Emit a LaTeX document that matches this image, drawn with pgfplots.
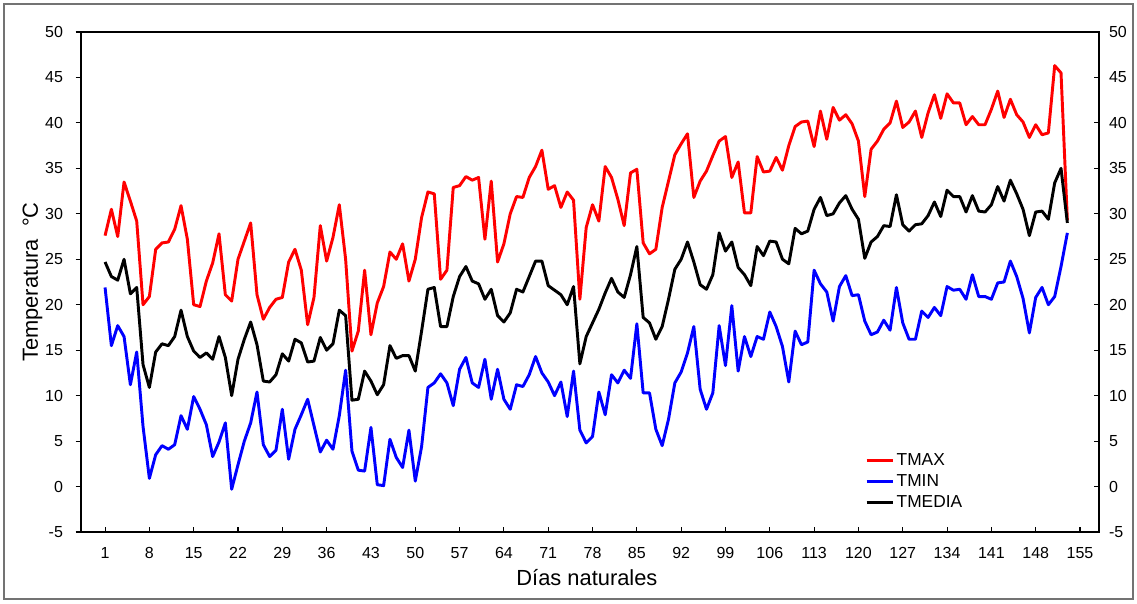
\documentclass[border=0pt]{standalone}
\usepackage{pgfplots}
\pgfplotsset{compat=1.18}
\usepackage{pgfplotstable}
\usepackage{fontspec}
\setmainfont{Liberation Sans}

\pgfplotstableread{
day tmax tmin tmed
1 27.6 21.9 24.7
2 30.5 15.5 23.1
3 27.5 17.7 22.7
4 33.5 16.5 25.0
5 31.4 11.2 21.2
6 29.2 14.8 21.9
7 20.0 6.6 13.4
8 20.9 0.9 10.9
9 26.1 3.5 14.8
10 26.8 4.5 15.7
11 26.9 4.1 15.5
12 28.3 4.6 16.5
13 30.9 7.8 19.4
14 27.2 6.3 16.5
15 20.0 9.9 14.9
16 19.8 8.5 14.2
17 22.6 6.8 14.7
18 24.6 3.3 14.0
19 27.8 4.9 16.5
20 21.1 7.0 14.2
21 20.4 -0.3 10.0
22 25.0 2.4 14.0
23 27.0 5.0 16.2
24 29.0 7.0 18.1
25 21.1 10.4 15.6
26 18.4 4.6 11.6
27 19.7 3.3 11.5
28 20.6 4.0 12.3
29 20.8 8.5 14.6
30 24.7 3.0 13.8
31 26.1 6.3 16.2
32 23.8 7.9 15.8
33 17.8 9.6 13.7
34 20.8 6.7 13.8
35 28.7 3.8 16.4
36 24.8 5.1 15.0
37 27.4 4.1 15.7
38 31.0 7.8 19.4
39 25.0 12.8 18.8
40 14.9 3.9 9.5
41 17.1 1.8 9.6
42 23.8 1.7 12.7
43 16.7 6.5 11.6
44 20.2 0.2 10.1
45 22.0 0.1 11.2
46 25.8 5.2 15.5
47 25.0 3.2 14.1
48 26.7 2.1 14.4
49 22.6 6.2 14.4
50 25.0 0.6 12.7
51 29.6 4.4 17.1
52 32.4 10.9 21.7
53 32.2 11.4 21.9
54 22.8 12.4 17.6
55 23.8 11.4 17.6
56 32.9 8.9 20.9
57 33.1 12.9 23.1
58 34.1 14.2 24.2
59 33.7 11.4 22.6
60 34.0 10.9 22.3
61 27.2 14.0 20.6
62 33.6 9.6 21.7
63 24.7 12.9 18.8
64 26.7 9.6 18.1
65 30.0 8.5 19.1
66 31.9 11.2 21.7
67 31.8 11.0 21.4
68 34.0 12.3 23.1
69 35.2 14.3 24.8
70 37.0 12.5 24.8
71 32.7 11.5 22.1
72 33.1 10.0 21.6
73 30.7 11.5 21.1
74 32.4 7.7 20.0
75 31.5 12.7 22.0
76 20.6 6.2 13.5
77 28.5 4.8 16.5
78 31.0 5.5 18.0
79 29.2 10.4 19.5
80 35.2 7.9 21.3
81 34.0 12.3 22.9
82 31.6 11.4 21.4
83 28.7 12.8 20.8
84 34.5 11.9 23.3
85 34.9 17.9 26.4
86 26.8 10.3 18.6
87 25.6 10.3 18.0
88 26.1 6.3 16.2
89 30.7 4.5 17.6
90 33.6 7.4 20.6
91 36.5 11.4 23.9
92 37.7 12.6 25.0
93 38.8 14.7 26.9
94 31.8 17.6 24.7
95 33.6 10.7 22.2
96 34.7 8.5 21.7
97 36.4 10.3 23.3
98 38.0 17.7 27.9
99 38.5 13.3 25.9
100 34.0 19.9 26.9
101 35.7 12.7 24.1
102 30.1 16.5 23.3
103 30.1 14.3 22.1
104 36.3 16.5 26.4
105 34.6 16.2 25.4
106 34.7 19.2 27.0
107 36.2 17.6 26.9
108 34.8 15.4 25.0
109 37.5 11.5 24.5
110 39.6 17.1 28.4
111 40.1 15.6 27.8
112 40.2 15.9 28.1
113 37.4 23.8 30.5
114 41.3 22.3 31.8
115 38.2 21.4 29.8
116 41.7 18.2 30.0
117 40.3 22.0 31.2
118 40.9 23.2 32.0
119 39.9 21.0 30.5
120 38.0 21.1 29.4
121 31.9 18.2 25.1
122 37.1 16.7 26.9
123 38.0 17.0 27.5
124 39.3 18.3 28.7
125 40.0 17.2 28.6
126 42.4 21.9 32.1
127 39.5 18.0 28.8
128 40.1 16.2 28.1
129 41.3 16.2 28.8
130 38.4 19.3 28.9
131 41.1 18.6 29.8
132 43.1 19.7 31.3
133 40.5 18.8 29.7
134 43.2 22.0 32.6
135 42.2 21.6 31.9
136 42.2 21.7 31.9
137 39.8 20.6 30.2
138 40.7 23.3 32.0
139 39.8 20.9 30.3
140 39.8 20.9 30.2
141 41.5 20.6 31.0
142 43.5 22.4 33.0
143 40.6 22.5 31.4
144 42.6 24.8 33.7
145 40.9 23.1 32.2
146 40.1 20.7 30.5
147 38.4 16.9 27.6
148 39.8 20.8 30.2
149 38.7 21.9 30.3
150 38.9 20.0 29.4
151 46.3 20.9 33.4
152 45.5 24.2 35.0
153 29.3 27.9 29.0
}\datatable

\begin{document}
\begin{tikzpicture}
\path[use as bounding box] (0pt,0pt) rectangle (852.75pt,452.25pt);
\draw[black!55, line width=0.8pt] (3pt,3pt) rectangle (849.75pt,449.25pt);
\begin{axis}[
  at={(60.75pt,53.25pt)}, anchor=south west,
  scale only axis, width=763.5pt, height=375pt,
  xmin=-2.8, xmax=158, ymin=-5, ymax=50,
  axis line style={line width=1pt},
  xtick={1,8,...,155},
  ytick={-5,0,...,50},
  yticklabels={-5,0,5,10,15,20,25,30,35,40,45,50},
  x tick label style={/pgf/number format/assume math mode=true},
  xtick pos=bottom, ytick pos=left,
  xtick align=inside, ytick align=outside,
  major tick length=4pt,
  tick style={line width=0.8pt, black},
  ticklabel style={font=\fontsize{12}{14}\selectfont},
  xticklabel style={yshift=-8pt},
  yticklabel style={xshift=-6pt},
  xlabel={Días naturales},
  ylabel={Temperatura\ \ °C},
  every axis x label/.style={at={(axis description cs:0.497,-0.092)}, anchor=center, font=\fontsize{16.4}{18}\selectfont},
  every axis y label/.style={at={(axis description cs:-0.0476,0.5)}, rotate=90, anchor=center, font=\fontsize{16.4}{18}\selectfont},
  legend style={at={(0.766,0.168)}, anchor=north west, draw=none, fill=none,
    font=\fontsize{13}{15}\selectfont, row sep=1.3pt},
  legend cell align=left,
  legend image code/.code={\draw[#1, line width=2.2pt] (0pt,0pt) -- (19.5pt,0pt);},
]
\addplot[red, line width=2.2pt, line join=round] table[x=day, y=tmax] {\datatable};
\addlegendentry{TMAX}
\addplot[blue, line width=2.2pt, line join=round] table[x=day, y=tmin] {\datatable};
\addlegendentry{TMIN}
\addplot[black, line width=2.2pt, line join=round] table[x=day, y=tmed] {\datatable};
\addlegendentry{TMEDIA}
\end{axis}
\begin{axis}[
  at={(60.75pt,53.25pt)}, anchor=south west,
  scale only axis, width=763.5pt, height=375pt,
  xmin=-2.8, xmax=158, ymin=-5, ymax=50,
  axis x line=none, axis y line*=right,
  axis line style={line width=1pt},
  ytick={-5,0,...,50},
  yticklabels={-5,0,5,10,15,20,25,30,35,40,45,50},
  ytick align=inside,
  major tick length=4pt,
  tick style={line width=0.8pt, black},
  ticklabel style={font=\fontsize{12}{14}\selectfont},
  yticklabel style={xshift=4pt},
]
\end{axis}
\end{tikzpicture}
\end{document}
